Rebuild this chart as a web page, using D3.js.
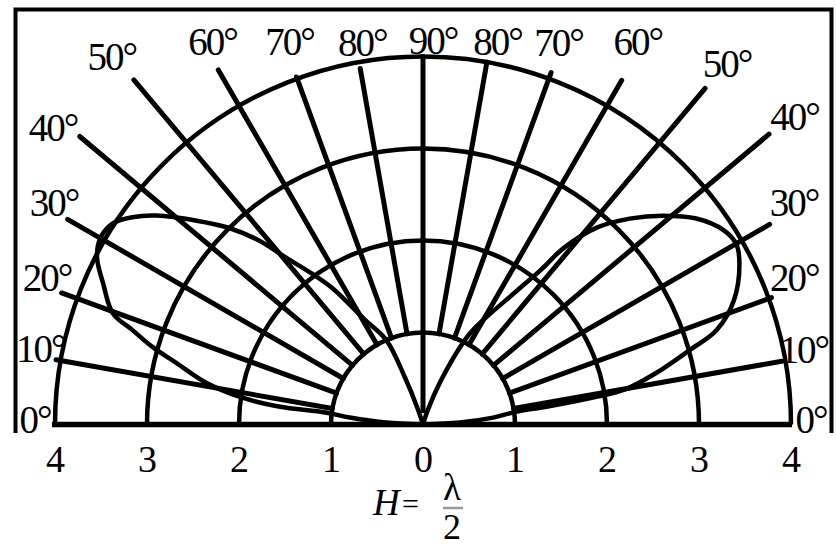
<!DOCTYPE html>
<html>
<head>
<meta charset="utf-8">
<script src="https://cdn.jsdelivr.net/npm/d3@7"></script>
<style>
  html, body { margin: 0; padding: 0; background: #fff; }
  svg { display: block; }
  text { font-family: "Liberation Serif", "Times New Roman", serif; fill: #000; }
</style>
</head>
<body>
<svg id="chart" width="836" height="548"></svg>
<script>
// Elevation pattern of a half-wave dipole at height H = λ/2 (relative field, 0–4)

// Radius rings and bottom axis ticks
const rings = [1, 2, 3, 4];
const axisTicks = [-4, -3, -2, -1, 0, 1, 2, 3, 4];

// Elevation spokes (degrees) and how far each one reaches, left and right half
const spokeAngles = [10, 20, 30, 40, 50, 60, 70, 80];
const spokeReachLeft  = [4.05, 4.18, 4.46, 4.87, 4.89, 4.45, 4.02, 3.93];
const spokeReachRight = [3.96, 4.03, 4.35, 4.91, 4.77, 4.32, 4.07, 4.00];
const zenithReach = 4.0;

// Radiation lobes: [elevation in degrees, relative field]
const leftLobe = [
  [0, 0], [3, 0.4], [5.5, 0.8], [7, 1.07], [7.1, 1.58], [8.6, 2.02],
  [10.9, 2.40], [14, 2.76], [16, 3.06], [18, 3.32], [19.7, 3.58],
  [23.8, 3.80], [27.1, 3.98], [30, 4.05], [32.9, 4.02], [35.5, 3.88],
  [38.1, 3.68], [42, 3.31], [45.4, 3.00], [48.3, 2.68], [50.6, 2.35],
  [53.6, 2.04], [56.3, 1.79], [61, 1.30], [66.5, 1.00], [69, 0.55],
  [71.6, 0.17], [72, 0]
];
const rightLobe = [
  [0, 0], [3, 0.4], [5.5, 0.75], [7.8, 1.03], [8.2, 1.37], [9.1, 1.92],
  [9.8, 2.22], [12.5, 2.60], [15.6, 3.01], [17.8, 3.35], [21.8, 3.64],
  [27, 3.86], [30, 3.93], [32.9, 3.89], [37, 3.72], [41, 3.46],
  [44.9, 3.17], [48.5, 2.86], [51.4, 2.46], [52.7, 2.11], [54.9, 1.78],
  [61.8, 1.19], [63.7, 1.02], [68, 0.5], [71.6, 0.17], [72, 0]
];

// ---- layout ----
const cx = 423, cy = 424.5, unit = 92;
const r = d3.scaleLinear().domain([0, 4]).range([0, 4 * unit]);
const x = d3.scaleLinear().domain([-4, 4]).range([cx - 4 * unit, cx + 4 * unit]);
const rad = d => d * Math.PI / 180;
// side: -1 = left half, +1 = right half; elevation measured up from the ground line
const pt = (side, elev, v) => [cx + side * r(v) * Math.cos(rad(elev)), cy - r(v) * Math.sin(rad(elev))];

const svg = d3.select("#chart");
const spokeW = 5, ringW = 4.5, lobeW = 4.5;

// frame (open at the bottom)
svg.append("path")
  .attr("d", `M15.5,433 V9.5 H831.5 V433`)
  .attr("fill", "none").attr("stroke", "#000").attr("stroke-width", 4);

const g = svg.append("g");

// rings
rings.forEach(v => {
  const p = d3.path();
  p.arc(cx, cy, r(v), Math.PI, 2 * Math.PI);
  g.append("path").attr("d", p.toString())
    .attr("fill", "none").attr("stroke", "#000").attr("stroke-width", ringW);
});

// spokes
[[-1, spokeReachLeft], [1, spokeReachRight]].forEach(([side, reach]) => {
  spokeAngles.forEach((a, i) => {
    const p0 = pt(side, a, 1), p1 = pt(side, a, reach[i]);
    g.append("line")
      .attr("x1", p0[0]).attr("y1", p0[1]).attr("x2", p1[0]).attr("y2", p1[1])
      .attr("stroke", "#000").attr("stroke-width", spokeW).attr("stroke-linecap", "round");
  });
});
{
  const p0 = pt(1, 90, 0.15), p1 = pt(1, 90, zenithReach);
  g.append("line")
    .attr("x1", p0[0]).attr("y1", p0[1]).attr("x2", p1[0]).attr("y2", p1[1])
    .attr("stroke", "#000").attr("stroke-width", spokeW).attr("stroke-linecap", "round");
}

// ground line (0°)
g.append("line")
  .attr("x1", x(-4) - 3).attr("y1", cy).attr("x2", x(4) + 1).attr("y2", cy)
  .attr("stroke", "#000").attr("stroke-width", 5.5);

// lobes
const lobe = side => d3.line()
  .x(d => pt(side, d[0], d[1])[0])
  .y(d => pt(side, d[0], d[1])[1])
  .curve(d3.curveCatmullRom.alpha(0.5));
g.append("path").attr("d", lobe(-1)(leftLobe))
  .attr("fill", "none").attr("stroke", "#000").attr("stroke-width", lobeW);
g.append("path").attr("d", lobe(1)(rightLobe))
  .attr("fill", "none").attr("stroke", "#000").attr("stroke-width", lobeW);

// spoke labels: [elevation, label radius, label angle]
const labelPosLeft  = [[10, 4.24, 11.2], [20, 4.39, 21.4], [30, 4.68, 31], [40, 5.16, 38.8],
                       [50, 5.24, 49.8], [60, 4.75, 61.2], [70, 4.41, 70.8], [80, 4.21, 81]];
const labelPosRight = [[10, 4.22, 11.2], [20, 4.34, 21.6], [30, 4.70, 30.9], [40, 5.25, 39.7],
                       [50, 5.13, 49.9], [60, 4.77, 60.7], [70, 4.41, 70.5], [80, 4.24, 79]];
const fs = 39;
const degLabel = (px, py, txt) => svg.append("text")
  .attr("x", px).attr("y", py).attr("dy", "0.35em")
  .attr("text-anchor", "middle")
  .attr("font-size", fs).attr("letter-spacing", -2)
  .text(txt);
[[-1, labelPosLeft], [1, labelPosRight]].forEach(([side, list]) => {
  list.forEach(([a, lr, la]) => {
    const p = pt(side, la, lr);
    degLabel(p[0], p[1], a + "°");
  });
});
degLabel(cx + 10, 40, "90°");
degLabel(35, 419, "0°");
degLabel(811, 419, "0°");

// bottom axis
const axis = d3.axisBottom(x).tickValues(axisTicks)
  .tickFormat(d => Math.abs(d)).tickSize(0).tickPadding(21);
const ax = svg.append("g").attr("transform", `translate(0,${cy})`).call(axis);
ax.select(".domain").remove();
ax.selectAll("text")
  .attr("font-family", "Liberation Serif, serif")
  .attr("font-size", 38).attr("fill", "#000");

// axis title: H = λ/2
svg.append("text").attr("x", 373).attr("y", 515)
  .attr("font-size", 37).attr("font-style", "italic").text("H");
svg.append("text").attr("x", 402).attr("y", 514)
  .attr("font-size", 30).attr("fill", "#555").text("=");
svg.append("text").attr("x", 452).attr("y", 500).attr("text-anchor", "middle")
  .attr("font-size", 37).text("λ");
svg.append("line").attr("x1", 443).attr("x2", 463).attr("y1", 508).attr("y2", 508)
  .attr("stroke", "#999").attr("stroke-width", 2.5);
svg.append("text").attr("x", 452).attr("y", 539).attr("text-anchor", "middle")
  .attr("font-size", 36).text("2");
</script>
</body>
</html>
